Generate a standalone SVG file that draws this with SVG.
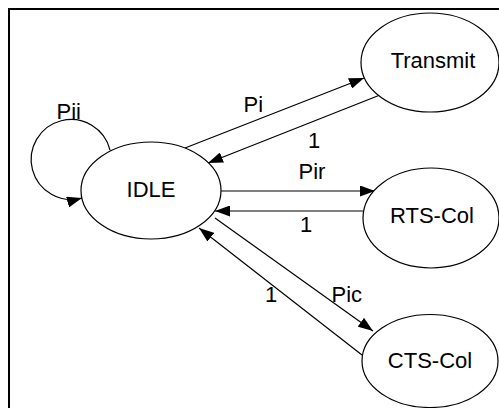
<svg xmlns="http://www.w3.org/2000/svg" width="499" height="408" viewBox="0 0 499 408">
  <defs>
    <marker id="arrow" markerUnits="userSpaceOnUse" markerWidth="15" markerHeight="11" refX="15" refY="5.5" orient="auto">
      <path d="M0,0 L15,5.5 L0,11 z" fill="#000"/>
    </marker>
    <style>
      .state { fill: #fff; stroke: #000; stroke-width: 1.2; }
      .name { font-family: "Liberation Sans", Arial, sans-serif; font-size: 22px; fill: #000; text-anchor: middle; }
      .edge { fill: none; stroke: #000; stroke-width: 1.2; marker-end: url(#arrow); }
      .prob { font-family: "Liberation Sans", Arial, sans-serif; font-size: 22px; fill: #000; }
    </style>
  </defs>

  <rect x="0" y="0" width="499" height="408" fill="#fff"/>
  <!-- frame, open on the right and bottom -->
  <rect x="9" y="9" width="520" height="430" fill="none" stroke="#000" stroke-width="2"/>

  <g id="connectors">
    <!-- self loop on IDLE -->
    <path class="edge" d="M110,150 A40,40 0 1,0 82,198"/>
    <!-- IDLE <-> Transmit -->
    <path class="edge" d="M185,148 L364,78"/>
    <path class="edge" d="M380,95 L208,163"/>
    <!-- IDLE <-> RTS-Col -->
    <path class="edge" d="M221,191 L375,191"/>
    <path class="edge" d="M363,211 L215,211"/>
    <!-- IDLE <-> CTS-Col -->
    <path class="edge" d="M215,218 L373,331"/>
    <path class="edge" d="M362,355 L199,228"/>

    <text class="prob" x="56.5" y="119">Pii</text>
    <text class="prob" x="243.5" y="112">Pi</text>
    <text class="prob" x="308" y="148">1</text>
    <text class="prob" x="298.5" y="179">Pir</text>
    <text class="prob" x="300" y="232">1</text>
    <text class="prob" x="331.5" y="302">Pic</text>
    <text class="prob" x="265" y="302">1</text>
  </g>

  <g id="idle">
    <ellipse class="state" cx="151" cy="190.5" rx="70" ry="48.5"/>
    <text class="name" x="151" y="197">IDLE</text>
  </g>

  <g id="transmit">
    <ellipse class="state" cx="430" cy="62.5" rx="69" ry="49.5"/>
    <text class="name" x="433" y="68">Transmit</text>
  </g>

  <g id="rts-col">
    <ellipse class="state" cx="431" cy="218" rx="68" ry="50"/>
    <text class="name" x="432" y="223">RTS-Col</text>
  </g>

  <g id="cts-col">
    <ellipse class="state" cx="430" cy="361" rx="68" ry="46.5"/>
    <text class="name" x="430" y="368">CTS-Col</text>
  </g>
</svg>
